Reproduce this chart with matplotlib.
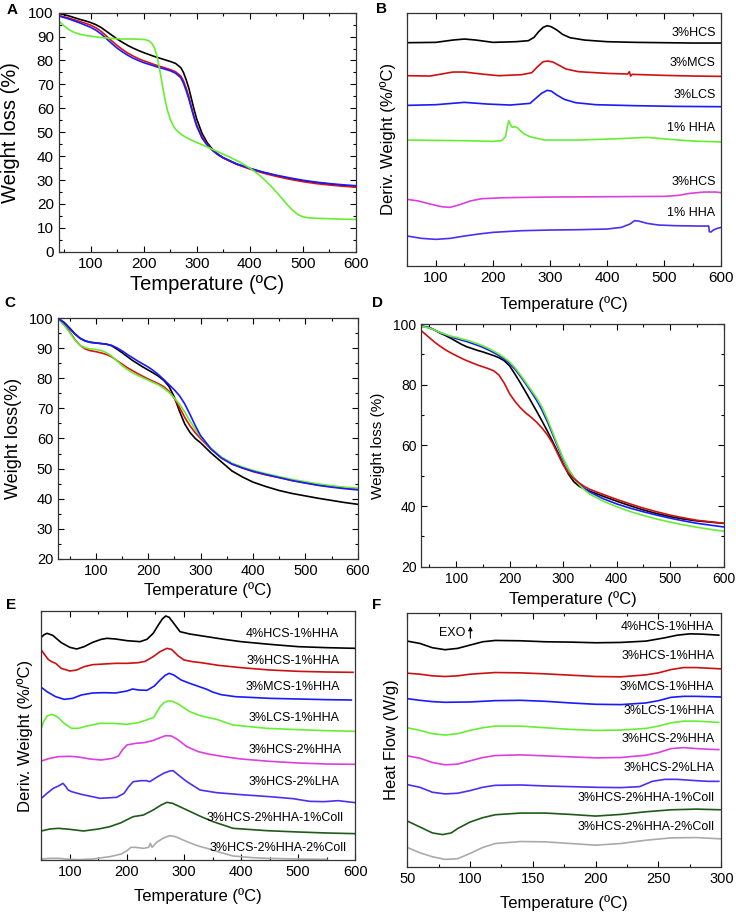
import numpy as np
import matplotlib
matplotlib.use("Agg")
import matplotlib.pyplot as plt
from matplotlib.ticker import MultipleLocator

plt.rcParams['font.family'] = ['Liberation Sans', 'DejaVu Sans']

# ---------------- panel A : TGA ----------------
tA = [40, 50, 60, 70, 80, 90, 100, 110, 120, 130, 140, 150, 160, 170, 180, 190, 200, 210, 220, 230,
      240, 250, 260, 270, 275, 280, 285, 290, 295, 300, 310, 320, 330, 340, 350,
      375, 400, 425, 450, 475, 500, 525, 550, 575, 600]
a_black = [99.7, 99.2, 98.6, 97.9, 97.2, 96.6, 95.9, 95.0, 93.8, 92.2, 90.6, 89.0, 87.6, 86.3, 85.2, 84.2,
           83.3, 82.5, 81.7, 81.0, 80.3, 79.6, 78.8, 77.0, 75.0, 72.0, 68.5, 64.0, 59.5, 55.5,
           49.5, 45.5, 42.8, 40.8, 39.3, 36.6, 34.8, 33.2, 31.8, 30.6, 29.6, 28.9, 28.3, 27.7, 27.2]
a_red = [98.8, 98.3, 97.7, 97.0, 96.3, 95.6, 94.8, 93.7, 92.2, 90.2, 88.2, 86.3, 84.6, 83.1, 81.9, 80.8,
         79.9, 79.1, 78.3, 77.6, 76.9, 76.2, 75.3, 73.5, 71.5, 68.5, 65.0, 60.5, 56.5, 53.0,
         48.0, 44.8, 42.5, 40.6, 39.2, 36.6, 34.6, 32.9, 31.5, 30.3, 29.3, 28.5, 27.9, 27.4, 27.0]
a_blue = [98.6, 98.0, 97.3, 96.5, 95.7, 94.8, 93.9, 92.7, 91.1, 89.1, 87.1, 85.2, 83.6, 82.2, 81.0, 80.0,
          79.1, 78.4, 77.7, 77.0, 76.4, 75.7, 74.7, 72.8, 70.5, 67.5, 64.0, 60.0, 56.0, 52.5,
          47.5, 44.5, 42.3, 40.6, 39.3, 36.8, 34.9, 33.3, 32.0, 30.9, 29.9, 29.1, 28.5, 28.0, 27.6]
tA_green = [40, 50, 60, 70, 80, 90, 100, 110, 120, 130, 140, 150, 160, 170, 180, 190, 200,
            205, 210, 215, 220, 225, 230, 235, 240, 245, 250, 255, 260, 270, 280, 290, 300,
            320, 340, 360, 380, 400, 410, 420, 430, 440, 450, 460, 470, 480, 490, 500, 510,
            525, 550, 575, 600]
a_green = [96.5, 94.5, 92.8, 91.7, 91.0, 90.5, 90.2, 89.9, 89.6, 89.4, 89.2, 89.1, 89.0, 89.0, 89.0, 88.9, 88.8,
           88.6, 88.2, 87.3, 85.5, 82.0, 76.5, 70.0, 64.0, 59.0, 55.5, 53.0, 51.3, 49.2, 47.8, 46.7, 45.7,
           43.8, 41.8, 39.8, 37.6, 35.0, 33.4, 31.6, 29.6, 27.4, 25.0, 22.4, 19.8, 17.5, 15.6, 14.6, 14.2,
           14.0, 13.8, 13.6, 13.5]

# ---------------- panel B : DTG (arbitrary offsets) ----------------
b_labels = ['3%HCS', '3%MCS', '3%LCS', '1% HHA', '3%HCS', '1% HHA']
b_label_y = [697, 607, 512, 414, 252, 157]
b_t = [
    [50, 100, 130, 150, 170, 200, 240, 262, 272, 280, 288, 295, 302, 312, 322, 335, 360, 400, 450, 500, 550, 600],
    [50, 90, 130, 150, 180, 210, 250, 268, 278, 288, 296, 305, 315, 328, 350, 400, 436, 439, 441, 444, 500, 550, 600],
    [50, 100, 150, 190, 230, 265, 275, 285, 295, 302, 312, 325, 345, 380, 450, 520, 600],
    [50, 150, 200, 215, 222, 226, 228, 231, 234, 238, 243, 248, 255, 265, 290, 350, 420, 470, 510, 550, 600],
    [50, 70, 90, 110, 125, 140, 160, 180, 220, 300, 400, 500, 525, 545, 570, 590, 600],
    [50, 75, 100, 125, 150, 175, 200, 250, 300, 350, 400, 425, 440, 448, 455, 470, 490, 520, 560, 578,
     579, 582, 586, 593, 600],
]
b_y = [
    [669, 670, 677, 680, 677, 670, 672, 675, 685, 702, 715, 720, 717, 707, 694, 684, 677, 672, 670, 669, 668, 668],
    [570, 569, 581, 581, 575, 570, 573, 579, 597, 612, 614, 611, 602, 590, 582, 577, 575, 582, 569, 574, 571, 569, 568],
    [481, 483, 490, 485, 482, 487, 502, 517, 526, 524, 512, 499, 489, 483, 480, 478, 477],
    [377, 375, 373, 375, 387, 425, 435, 422, 415, 417, 414, 405, 395, 387, 377, 377, 381, 385, 379, 374, 371],
    [199, 194, 185, 177, 175, 182, 194, 201, 204, 206, 207, 208, 211, 217, 221, 221, 219],
    [89, 82, 79, 82, 89, 95, 100, 105, 107, 108, 110, 115, 125, 135, 134, 127, 122, 120, 119, 119,
     102, 101, 107, 112, 115],
]
b_colors = ['black', '#d01010', '#1a1aff', '#66ee33', '#dd3ee0', '#4a30f0']

# ---------------- panel C : TGA ----------------
tC = [28, 40, 50, 60, 70, 80, 90, 100, 110, 120, 130, 140, 150, 160, 170, 180, 190, 200, 210, 220, 230,
      240, 250, 260, 270, 280, 290, 300, 320, 340, 360, 380, 400, 425, 450, 475, 500, 525, 550, 575, 600]
c_black = [100, 98.6, 96.8, 94.9, 93.4, 92.5, 92.0, 91.8, 91.6, 91.4, 90.9, 89.8, 88.6, 87.3, 86.0, 84.9, 83.8,
           82.8, 81.8, 80.7, 79.3, 77.3, 73.8, 69.0, 64.8, 62.0, 60.0, 58.6, 55.2, 52.2, 49.2, 47.2, 45.5,
           44.0, 42.7, 41.7, 40.9, 40.1, 39.4, 38.7, 38.1]
c_red = [100, 97.8, 95.6, 93.0, 91.0, 89.8, 89.2, 88.9, 88.5, 88.0, 87.2, 86.0, 84.8, 83.6, 82.6, 81.6, 80.7,
         79.8, 79.0, 78.2, 77.2, 75.7, 73.4, 70.3, 67.0, 64.2, 61.9, 60.0, 56.5, 53.5, 51.5, 50.2, 49.0,
         47.9, 47.0, 46.0, 45.2, 44.5, 44.0, 43.6, 43.2]
c_green = [100, 97.6, 95.3, 92.8, 91.0, 90.2, 89.8, 89.6, 89.3, 88.6, 87.5, 85.9, 84.3, 83.0, 81.9, 81.0, 80.2,
           79.4, 78.6, 77.8, 76.7, 75.3, 73.5, 71.4, 68.8, 65.8, 63.0, 60.6, 56.8, 53.8, 51.8, 50.5, 49.4,
           48.3, 47.3, 46.4, 45.6, 44.9, 44.3, 43.8, 43.5]
c_blue = [100, 98.4, 96.6, 94.8, 93.3, 92.4, 92.0, 91.8, 91.6, 91.4, 91.0, 90.2, 89.2, 88.0, 86.9, 85.8, 84.8,
          83.8, 82.6, 81.2, 79.6, 77.9, 76.2, 74.2, 71.5, 68.0, 64.3, 61.0, 56.5, 53.5, 51.5, 50.2, 49.1,
          48.0, 47.0, 46.0, 45.2, 44.4, 43.8, 43.3, 42.9]

# ---------------- panel D : TGA ----------------
tD = [35, 50, 60, 70, 80, 90, 100, 110, 120, 130, 140, 150, 160, 170, 180, 190, 200, 210, 220, 230, 240,
      250, 260, 270, 280, 290, 300, 310, 320, 330, 340, 350, 375, 400, 425, 450, 475, 500, 525, 550, 575, 600]
d_black = [99.3, 98.8, 98.0, 97.0, 96.2, 95.3, 94.3, 93.3, 92.5, 91.9, 91.3, 90.8, 90.2, 89.6, 88.9, 87.9,
           86.2, 83.5, 80.6, 77.6, 74.5, 71.4, 68.2, 64.9, 61.4, 57.7, 53.9, 50.5, 48.0, 46.5, 45.6, 44.9,
           43.2, 41.6, 40.1, 38.7, 37.5, 36.5, 35.7, 35.1, 34.7, 34.3]
d_red = [97.8, 95.5, 94.0, 92.7, 91.5, 90.5, 89.6, 88.7, 87.9, 87.2, 86.5, 85.9, 85.3, 84.6, 83.2, 80.5,
         77.0, 74.5, 72.4, 70.7, 69.3, 67.7, 65.8, 63.6, 60.8, 57.2, 53.6, 50.9, 49.0, 47.6, 46.4, 45.5,
         43.8, 42.2, 40.7, 39.3, 38.1, 37.0, 36.1, 35.3, 34.8, 34.3]
d_blue = [99.3, 98.8, 98.0, 97.2, 96.5, 95.8, 95.2, 94.7, 94.2, 93.6, 93.0, 92.3, 91.5, 90.6, 89.6, 88.4,
          87.0, 85.1, 82.8, 80.3, 77.7, 75.0, 71.8, 68.0, 63.8, 59.5, 55.4, 52.0, 49.3, 47.3, 45.8, 44.6,
          42.4, 40.7, 39.3, 38.1, 37.0, 36.0, 35.1, 34.3, 33.7, 33.1]
d_green = [99.2, 98.7, 98.0, 97.2, 96.6, 96.0, 95.6, 95.1, 94.7, 94.1, 93.5, 92.8, 92.0, 91.1, 90.1, 88.9,
           87.5, 85.6, 83.3, 80.8, 78.3, 75.8, 72.8, 68.9, 64.5, 60.0, 55.8, 52.2, 49.3, 47.0, 45.3, 43.9,
           41.6, 39.8, 38.2, 36.9, 35.7, 34.7, 33.8, 33.0, 32.3, 31.7]

# ---------------- panels E and F : shared sample names / colours ----------------
samples = ['4%HCS-1%HHA', '3%HCS-1%HHA', '3%MCS-1%HHA', '3%LCS-1%HHA',
           '3%HCS-2%HHA', '3%HCS-2%LHA', '3%HCS-2%HHA-1%Coll', '3%HCS-2%HHA-2%Coll']
ef_colors = ['black', '#cc1111', '#1a1aff', '#66ee33', '#dd3ee0', '#4a30f0', '#1f5a1a', '#aaaaaa']

# E : DTG (arbitrary offsets)
e_t = [
    [50, 55, 60, 70, 85, 100, 112, 125, 140, 155, 165, 180, 200, 223, 235, 246, 255, 262, 268, 274, 282, 293,
     310, 340, 370, 400, 450, 500, 550, 600],
    [50, 55, 62, 68, 75, 85, 100, 112, 125, 140, 160, 180, 200, 220, 232, 246, 258, 270, 278, 290, 300, 315,
     330, 360, 400, 450, 500, 550, 596],
    [50, 60, 75, 90, 105, 120, 140, 160, 180, 200, 210, 220, 235, 248, 258, 267, 274, 282, 295, 310, 330, 340,
     350, 365, 390, 450, 500, 550, 593],
    [50, 54, 60, 68, 78, 90, 103, 115, 130, 153, 175, 199, 220, 234, 247, 258, 265, 272, 280, 290, 310, 330,
     357, 386, 445, 500, 550, 600],
    [50, 65, 80, 100, 115, 135, 155, 175, 185, 192, 200, 215, 230, 245, 258, 268, 278, 290, 305, 325, 345, 370,
     400, 450, 500, 550, 600],
    [50, 60, 71, 80, 88, 93, 97, 103, 120, 153, 182, 195, 203, 211, 225, 234, 240, 252, 264, 275, 281, 290,
     305, 328, 357, 400, 450, 491, 520, 545, 570, 600],
    [50, 65, 80, 100, 124, 150, 170, 190, 199, 211, 229, 246, 260, 270, 280, 295, 305, 330, 351, 386, 445, 500,
     550, 600],
    [50, 65, 80, 100, 115, 140, 170, 190, 200, 207, 215, 229, 238, 241, 244, 252, 265, 275, 285, 305, 325, 340,
     365, 386, 420, 445, 500, 550],
]
e_y = [
    [668, 676, 680, 674, 652, 638, 633, 640, 653, 662, 665, 663, 658, 655, 662, 680, 705, 723, 732, 728, 710, 685,
     678, 670, 662, 655, 647, 640, 637, 635],
    [630, 618, 602, 595, 590, 575, 567, 570, 580, 586, 588, 590, 590, 592, 596, 610, 625, 635, 632, 612, 600, 595,
     592, 584, 577, 570, 566, 564, 563],
    [518, 505, 490, 482, 485, 495, 501, 502, 501, 507, 513, 510, 509, 522, 540, 554, 560, 555, 540, 530, 518, 512,
     504, 496, 490, 485, 483, 481, 480],
    [395, 415, 432, 437, 430, 410, 395, 395, 402, 410, 410, 407, 412, 420, 428, 460, 472, 477, 476, 468, 445, 432,
     422, 405, 395, 391, 388, 386],
    [297, 305, 310, 311, 309, 303, 300, 305, 312, 330, 345, 350, 352, 358, 367, 373, 372, 360, 340, 325, 317, 310,
     303, 296, 291, 288, 287],
    [185, 200, 215, 222, 230, 220, 210, 205, 197, 185, 188, 200, 220, 235, 238, 238, 235, 248, 260, 267, 268, 255,
     235, 210, 202, 196, 190, 184, 176, 175, 178, 172],
    [87, 93, 95, 92, 87, 93, 100, 112, 120, 130, 135, 150, 165, 173, 170, 158, 150, 130, 115, 95, 88, 84, 81, 79],
    [3, 5, 5, 2, 1, 3, 10, 18, 28, 38, 38, 35, 38, 50, 38, 53, 67, 73, 70, 55, 42, 35, 22, 12, 7, 5, 3, 2],
]
e_label_y = [678, 598, 518, 427, 330, 233, 125, 37]
e_label_x = [572, 572, 573, 573, 576, 573, 580, 585]

# F : DSC heat flow (arbitrary offsets)
f_t = [
    [50, 60, 70, 80, 90, 100, 110, 120, 140, 160, 180, 200, 220, 240, 255, 265, 275, 285, 298],
    [50, 60, 70, 80, 90, 100, 120, 140, 160, 180, 200, 220, 240, 250, 260, 270, 280, 290, 300],
    [50, 60, 70, 80, 100, 120, 140, 160, 180, 200, 220, 240, 250, 260, 270, 280, 290, 300],
    [50, 60, 70, 80, 90, 100, 110, 120, 140, 160, 180, 200, 220, 240, 250, 260, 270, 280, 290, 298],
    [50, 60, 70, 80, 90, 100, 110, 120, 140, 160, 180, 200, 220, 240, 250, 260, 270, 280, 290, 298],
    [50, 60, 70, 80, 90, 100, 110, 120, 140, 160, 180, 200, 220, 235, 245, 255, 265, 280, 290, 298],
    [50, 60, 70, 78, 85, 90, 100, 110, 120, 140, 160, 180, 200, 220, 240, 260, 280, 300],
    [50, 60, 70, 80, 90, 100, 110, 120, 140, 160, 180, 200, 220, 240, 260, 280, 300],
]
f_y = [
    [683, 676, 663, 657, 661, 671, 681, 685, 684, 681, 680, 678, 679, 683, 693, 701, 705, 704, 701],
    [586, 583, 578, 576, 578, 583, 588, 587, 584, 580, 576, 575, 581, 587, 597, 603, 603, 601, 599],
    [509, 504, 500, 498, 499, 503, 504, 501, 496, 492, 491, 496, 503, 513, 516, 516, 515, 514],
    [421, 413, 403, 399, 403, 413, 421, 426, 426, 421, 416, 413, 414, 419, 426, 436, 441, 441, 439, 437],
    [336, 329, 316, 309, 311, 321, 331, 337, 339, 336, 333, 330, 331, 338, 346, 358, 361, 358, 356, 355],
    [249, 241, 226, 221, 223, 231, 241, 247, 248, 245, 243, 241, 240, 243, 259, 265, 265, 261, 259, 259],
    [139, 121, 103, 98, 103, 116, 136, 149, 158, 163, 163, 159, 154, 159, 167, 173, 175, 173],
    [59, 43, 31, 23, 25, 41, 59, 71, 77, 76, 71, 66, 71, 81, 88, 89, 85],
]
f_label_y = [726, 638, 543, 471, 388, 299, 209, 121]

W, H = 736, 913
fig = plt.figure(figsize=(W / 100, H / 100), dpi=100)


def px_axes(l, t, r, b):
    return fig.add_axes([l / W, 1 - b / H, (r - l) / W, (b - t) / H])


def style(ax, fs=10, yticks=True):
    ax.tick_params(which='both', direction='in', top=True, right=True, labelsize=fs)
    ax.tick_params(which='major', length=4, width=0.8)
    ax.tick_params(which='minor', length=2.2, width=0.8)
    for s in ax.spines.values():
        s.set_linewidth(0.9)
        s.set_color('#333333')
    if not yticks:
        ax.set_yticks([])
        ax.tick_params(axis='y', which='both', left=False, right=False)


lw = 1.2
tlabel = 'Temperature (ºC)'

# A
ax = px_axes(58.7, 12.7, 356, 251.7)
ax.plot(tA, a_black, color='black', lw=lw)
ax.plot(tA, a_red, color='#e01010', lw=lw)
ax.plot(tA, a_blue, color='#1a1aff', lw=lw)
ax.plot(tA_green, a_green, color='#66ee33', lw=lw)
ax.set_xlim(40, 600)
ax.set_ylim(0, 100)
ax.xaxis.set_major_locator(MultipleLocator(100))
ax.xaxis.set_minor_locator(MultipleLocator(50))
ax.yaxis.set_major_locator(MultipleLocator(10))
ax.yaxis.set_minor_locator(MultipleLocator(5))
style(ax, fs=11)
ax.set_ylabel('Weight loss (%)', fontsize=14.5, labelpad=6)
ax.set_xlabel(tlabel, fontsize=14.5, labelpad=3)

# B
ax = px_axes(407.3, 12.7, 721.3, 265.7)
for tt, yy, c in zip(b_t, b_y, b_colors):
    ax.plot(tt, yy, color=c, lw=lw)
for lab, yy in zip(b_labels, b_label_y):
    ax.text(590, yy, lab, ha='right', va='center', fontsize=9)
ax.set_xlim(50, 600)
ax.set_ylim(0, 759)
ax.xaxis.set_major_locator(MultipleLocator(100))
ax.xaxis.set_minor_locator(MultipleLocator(50))
style(ax, fs=11, yticks=False)
ax.set_ylabel('Deriv. Weight (%/ºC)', fontsize=12, labelpad=8)
ax.set_xlabel(tlabel, fontsize=12, labelpad=8)

# C
ax = px_axes(58, 318.3, 357.7, 558.7)
ax.plot(tC, c_black, color='black', lw=lw)
ax.plot(tC, c_red, color='#e01010', lw=lw)
ax.plot(tC, c_green, color='#66ee33', lw=lw)
ax.plot(tC, c_blue, color='#1a1aff', lw=lw)
ax.set_xlim(28, 600)
ax.set_ylim(20, 100)
ax.xaxis.set_major_locator(MultipleLocator(100))
ax.xaxis.set_minor_locator(MultipleLocator(50))
ax.yaxis.set_major_locator(MultipleLocator(10))
ax.yaxis.set_minor_locator(MultipleLocator(5))
style(ax, fs=10.5)
ax.set_ylabel('Weight loss(%)', fontsize=13, labelpad=5)
ax.set_xlabel(tlabel, fontsize=12, labelpad=3)

# D
ax = px_axes(421.3, 324, 723.7, 566.7)
ax.plot(tD, d_black, color='black', lw=lw)
ax.plot(tD, d_blue, color='#1a1aff', lw=lw)
ax.plot(tD, d_green, color='#66ee33', lw=lw)
ax.plot(tD, d_red, color='#d01010', lw=lw)
ax.set_xlim(35, 600)
ax.set_ylim(20, 100)
ax.xaxis.set_major_locator(MultipleLocator(100))
ax.xaxis.set_minor_locator(MultipleLocator(50))
ax.yaxis.set_major_locator(MultipleLocator(20))
ax.yaxis.set_minor_locator(MultipleLocator(10))
style(ax, fs=10)
ax.set_ylabel('Weight loss (%)', fontsize=11, labelpad=6)
ax.set_xlabel(tlabel, fontsize=12, labelpad=4)

# E
ax = px_axes(41.3, 611, 355.3, 860)
for tt, yy, c in zip(e_t, e_y, ef_colors):
    ax.plot(tt, yy, color=c, lw=lw)
for lab, xx, yy in zip(samples, e_label_x, e_label_y):
    ax.text(xx, yy, lab, ha='right', va='center', fontsize=9)
ax.set_xlim(50, 600)
ax.set_ylim(0, 747)
ax.xaxis.set_major_locator(MultipleLocator(100))
ax.xaxis.set_minor_locator(MultipleLocator(50))
style(ax, fs=10.5, yticks=False)
ax.set_ylabel('Deriv. Weight (%/ºC)', fontsize=12, labelpad=6)
ax.set_xlabel(tlabel, fontsize=12, labelpad=7)

# F
ax = px_axes(407.3, 613, 721.3, 867)
for tt, yy, c in zip(f_t, f_y, ef_colors):
    ax.plot(tt, yy, color=c, lw=lw)
for lab, yy in zip(samples, f_label_y):
    ax.text(294.4, yy, lab, ha='right', va='center', fontsize=9)
ax.text(96.5, 709, 'EXO', ha='right', va='center', fontsize=9)
ax.annotate('', xy=(100.2, 728), xytext=(100.2, 692),
            arrowprops=dict(arrowstyle='-|>', color='black', lw=0.8, mutation_scale=6,
                            shrinkA=0, shrinkB=0))
ax.set_xlim(50, 300)
ax.set_ylim(0, 768)
ax.xaxis.set_major_locator(MultipleLocator(50))
ax.xaxis.set_minor_locator(MultipleLocator(25))
style(ax, fs=10.5, yticks=False)
ax.set_ylabel('Heat Flow (W/g)', fontsize=12, labelpad=6)
ax.set_xlabel(tlabel, fontsize=12, labelpad=7)

# panel letters
for letter, x, y in [('A', 7, 10), ('B', 376, 9), ('C', 4, 303), ('D', 372, 303), ('E', 6, 605), ('F', 372, 605)]:
    fig.text(x / W, 1 - y / H, letter, fontsize=11, fontweight='bold', ha='left', va='center')

fig.savefig('out.png', dpi=100)
